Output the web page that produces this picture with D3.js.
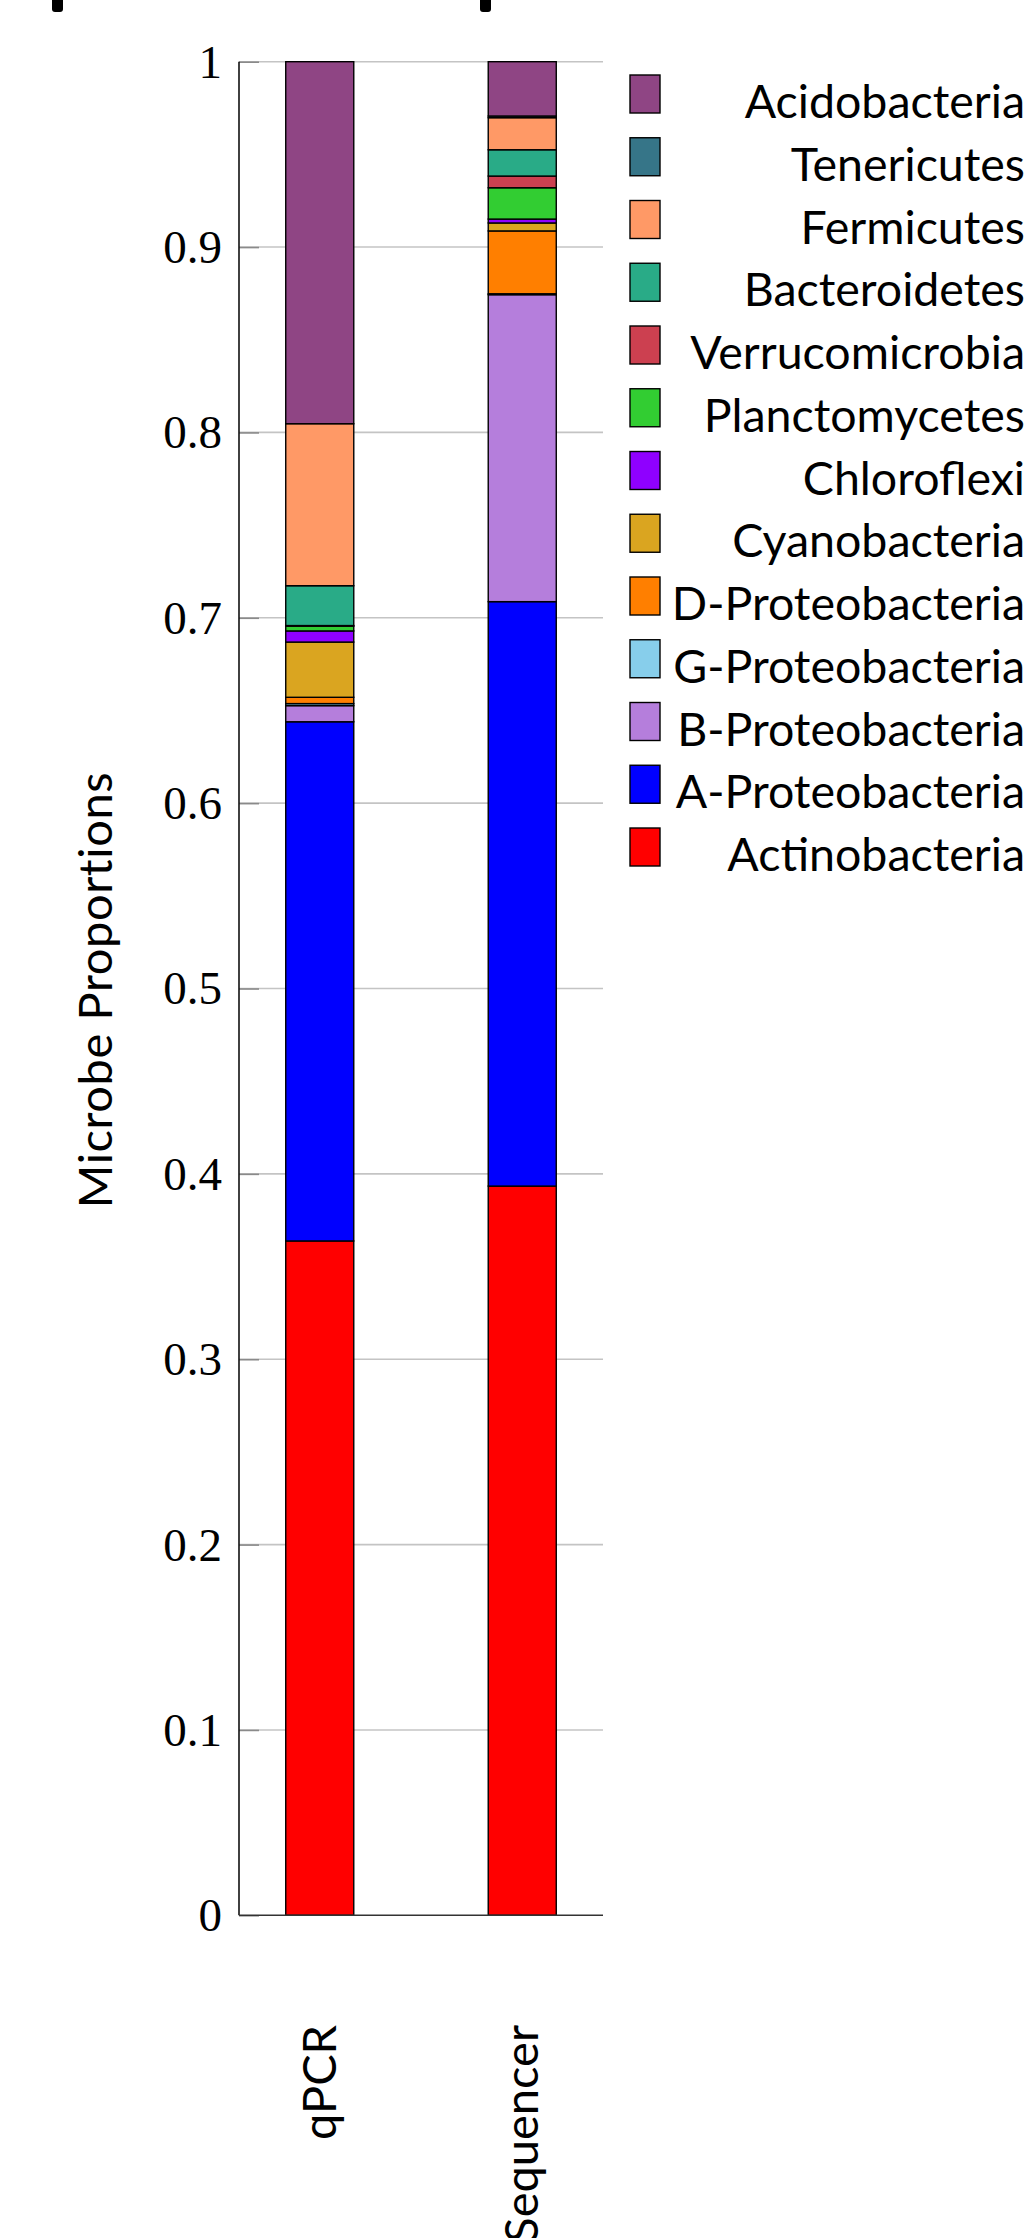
<!DOCTYPE html>
<html>
<head>
<meta charset="utf-8">
<script src="https://cdn.jsdelivr.net/npm/d3@7"></script>
<style>
  body { margin: 0; background: #fff; }
  svg { display: block; }
</style>
</head>
<body>
<div id="chart"></div>
<script>
// samples on the x axis
const samples = ["qPCR", "Sequencer"];

// phyla, bottom of the stack first
const phyla = [
  "Actinobacteria", "A-Proteobacteria", "B-Proteobacteria", "G-Proteobacteria",
  "D-Proteobacteria", "Cyanobacteria", "Chloroflexi", "Planctomycetes",
  "Verrucomicrobia", "Bacteroidetes", "Fermicutes", "Tenericutes", "Acidobacteria"
];

// proportions per sample, same order as phyla
const qpcrValues = [0.3638, 0.2801, 0.0087, 0.0011, 0.0034, 0.0298, 0.0060,
                    0.0026, 0.0003, 0.0215, 0.0874, 0.0000, 0.1953];
const sequencerValues = [0.3934, 0.3153, 0.1656, 0.0005, 0.0339, 0.0043, 0.0021,
                         0.0169, 0.0063, 0.0142, 0.0173, 0.0009, 0.0293];

const phylaColors = ["#ff0000", "#0000ff", "#b57edc", "#87ceeb", "#ff7f00", "#daa520",
                     "#8f00ff", "#32cd32", "#cc4050", "#29ab87", "#ff9966", "#367588", "#8f4584"];

const yTicks = [0, 0.1, 0.2, 0.3, 0.4, 0.5, 0.6, 0.7, 0.8, 0.9, 1];

const W = 1032, H = 2238;
const margin = { top: 61.7, left: 239, right: 603, bottom: 1915.3 };
const sansFont = "Lato, 'Open Sans', sans-serif";
const serifFont = "'Liberation Serif', 'DejaVu Serif', serif";

const svg = d3.select("#chart").append("svg")
    .attr("width", W)
    .attr("height", H);

// table built from the arrays above
const table = samples.map((s, i) => {
  const vals = i === 0 ? qpcrValues : sequencerValues;
  const row = { sample: s };
  phyla.forEach((p, j) => { row[p] = vals[j]; });
  return row;
});

const series = d3.stack().keys(phyla)(table);

const x = d3.scaleBand()
    .domain(samples)
    .range([margin.left, margin.right])
    .paddingInner(0.664)
    .paddingOuter(0.2308);

const y = d3.scaleLinear()
    .domain([0, 1])
    .range([margin.bottom, margin.top]);

const color = d3.scaleOrdinal().domain(phyla).range(phylaColors);

// clipped title descenders peeking in at the top edge
svg.append("g").selectAll("rect")
    .data([52, 480])
    .enter().append("rect")
    .attr("x", d => d)
    .attr("y", -10)
    .attr("width", 11)
    .attr("height", 22)
    .attr("rx", 3)
    .attr("fill", "#000");

// grid
const grid = svg.append("g");
grid.selectAll("line")
    .data(yTicks.filter(t => t > 0))
    .enter().append("line")
    .attr("x1", margin.left)
    .attr("x2", margin.right)
    .attr("y1", d => y(d))
    .attr("y2", d => y(d))
    .attr("stroke", "#c4c4c4")
    .attr("stroke-width", 1.6);

// y axis: inner ticks + serif labels
const yAxis = svg.append("g")
    .attr("transform", `translate(${margin.left},0)`)
    .call(d3.axisRight(y).tickValues(yTicks).tickSize(20).tickFormat(""));
yAxis.select(".domain").remove();
yAxis.selectAll(".tick line").attr("stroke", "#8a8a8a").attr("stroke-width", 1.6);

svg.append("g").selectAll("text")
    .data(yTicks)
    .enter().append("text")
    .attr("x", 222)
    .attr("y", d => y(d))
    .attr("dy", "0.34em")
    .attr("text-anchor", "end")
    .style("font-family", serifFont)
    .style("font-size", "47px")
    .attr("fill", "#000")
    .text(d => d3.format("~g")(d));

// bars
const layers = svg.append("g").selectAll("g")
    .data(series)
    .enter().append("g")
    .attr("fill", d => color(d.key));

layers.selectAll("rect")
    .data(d => d)
    .enter().append("rect")
    .attr("x", d => x(d.data.sample))
    .attr("y", d => y(d[1]))
    .attr("width", x.bandwidth())
    .attr("height", d => y(d[0]) - y(d[1]))
    .attr("stroke", "#000")
    .attr("stroke-width", 1.4);

// axis lines
svg.append("line")
    .attr("x1", margin.left).attr("x2", margin.left)
    .attr("y1", margin.top).attr("y2", margin.bottom)
    .attr("stroke", "#111").attr("stroke-width", 1.6);
svg.append("line")
    .attr("x1", margin.left).attr("x2", margin.right)
    .attr("y1", margin.bottom).attr("y2", margin.bottom)
    .attr("stroke", "#333").attr("stroke-width", 1.6);

// x labels, rotated (Sequencer runs off the bottom, as in the original)
svg.append("g").selectAll("text")
    .data(samples)
    .enter().append("text")
    .attr("transform", d => `translate(${x(d) + x.bandwidth() / 2 + 16},2025) rotate(-90)`)
    .attr("text-anchor", "end")
    .style("font-family", sansFont)
    .style("font-size", "47px")
    .attr("fill", "#000")
    .text(d => d);

// y axis title
svg.append("text")
    .attr("transform", "translate(112,990) rotate(-90)")
    .attr("text-anchor", "middle")
    .style("font-family", sansFont)
    .style("font-size", "47px")
    .style("letter-spacing", "0.6px")
    .attr("fill", "#000")
    .text("Microbe Proportions");

// legend, top to bottom = top of stack first
const legendKeys = phyla.slice().reverse();
const legend = svg.append("g").selectAll("g")
    .data(legendKeys)
    .enter().append("g")
    .attr("transform", (d, i) => `translate(630,${75 + i * 62.75})`);

legend.append("rect")
    .attr("width", 30)
    .attr("height", 38)
    .attr("fill", d => color(d))
    .attr("stroke", "#000")
    .attr("stroke-width", 1.4);

legend.append("text")
    .attr("x", 395)
    .attr("y", 43)
    .attr("text-anchor", "end")
    .style("font-family", sansFont)
    .style("font-size", "46.5px")
    .attr("fill", "#000")
    .text(d => d);
</script>
</body>
</html>
